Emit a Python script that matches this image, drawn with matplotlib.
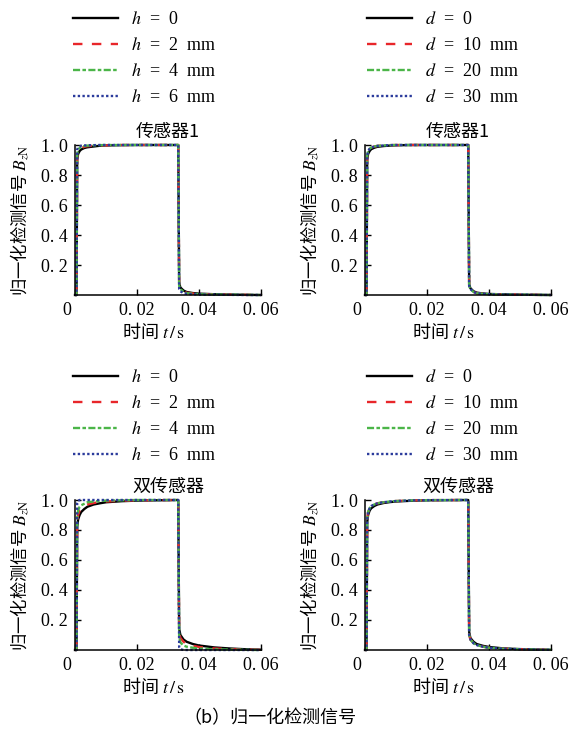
import numpy as np
import matplotlib
matplotlib.use("Agg")
import matplotlib.pyplot as plt
from matplotlib.transforms import ScaledTranslation

plt.rcParams['font.family'] = ['Liberation Serif', 'Noto Sans CJK SC']
plt.rcParams['mathtext.fontset'] = 'stix'
CJK = ['Noto Sans CJK SC', 'Liberation Serif']

# time samples (s), shared by all curves
t = [0, 0.0005, 0.0007, 0.001, 0.0015, 0.002, 0.003, 0.004, 0.006, 0.008,
     0.01, 0.015, 0.02, 0.0333, 0.0336, 0.034, 0.035, 0.036, 0.038, 0.04,
     0.045, 0.05, 0.055, 0.06]

# sensor 1, lift-off h
s1_h0 = [0, 0, 0.90, 0.94, 0.96, 0.97, 0.98, 0.985, 0.99, 0.995, 0.997, 0.999, 1.0, 1.0,
         0.08, 0.05, 0.03, 0.02, 0.013, 0.009, 0.005, 0.003, 0.001, 0]
s1_h2 = [0, 0, 0.92, 0.95, 0.97, 0.98, 0.988, 0.992, 0.995, 0.997, 0.998, 1.0, 1.0, 1.0,
         0.07, 0.045, 0.025, 0.015, 0.01, 0.007, 0.004, 0.002, 0.001, 0]
s1_h4 = [0, 0, 0.94, 0.97, 0.98, 0.988, 0.993, 0.996, 0.998, 0.999, 1.0, 1.0, 1.0, 1.0,
         0.06, 0.04, 0.02, 0.012, 0.008, 0.005, 0.003, 0.002, 0.001, 0]
s1_h6 = [0, 0, 0.97, 0.985, 0.99, 0.995, 0.997, 0.998, 0.999, 1.0, 1.0, 1.0, 1.0, 1.0,
         0.04, 0.025, 0.012, 0.008, 0.005, 0.003, 0.002, 0.001, 0, 0]

# sensor 1, offset d
s1_d0 = [0, 0, 0.90, 0.94, 0.96, 0.972, 0.982, 0.988, 0.993, 0.996, 0.998, 1.0, 1.0, 1.0,
         0.07, 0.045, 0.025, 0.016, 0.01, 0.007, 0.004, 0.002, 0.001, 0]
s1_d10 = [0, 0, 0.93, 0.96, 0.975, 0.983, 0.99, 0.994, 0.997, 0.999, 1.0, 1.0, 1.0, 1.0,
          0.06, 0.04, 0.02, 0.012, 0.008, 0.005, 0.003, 0.002, 0.001, 0]
s1_d20 = [0, 0, 0.93, 0.96, 0.975, 0.983, 0.99, 0.994, 0.997, 0.999, 1.0, 1.0, 1.0, 1.0,
          0.06, 0.04, 0.02, 0.012, 0.008, 0.005, 0.003, 0.002, 0.001, 0]
s1_d30 = [0, 0, 0.93, 0.96, 0.975, 0.983, 0.99, 0.994, 0.997, 0.999, 1.0, 1.0, 1.0, 1.0,
          0.06, 0.04, 0.02, 0.012, 0.008, 0.005, 0.003, 0.002, 0.001, 0]

# double sensor, lift-off h
s2_h0 = [0, 0, 0.82, 0.87, 0.90, 0.92, 0.94, 0.955, 0.97, 0.978, 0.985, 0.992, 0.996, 1.0,
         0.14, 0.10, 0.07, 0.055, 0.04, 0.03, 0.017, 0.01, 0.005, 0.002]
s2_h2 = [0, 0, 0.85, 0.90, 0.93, 0.945, 0.96, 0.97, 0.98, 0.986, 0.99, 0.995, 0.998, 1.0,
         0.12, 0.08, 0.055, 0.04, 0.028, 0.02, 0.01, 0.006, 0.003, 0.001]
s2_h4 = [0, 0, 0.88, 0.93, 0.955, 0.965, 0.975, 0.985, 0.99, 0.994, 0.996, 0.998, 1.0, 1.0,
         0.09, 0.05, 0.03, 0.022, 0.015, 0.01, 0.005, 0.003, 0.001, 0]
s2_h6 = [0, 0, 0.98, 0.995, 1.0, 1.0, 1.0, 1.0, 1.0, 1.0, 1.0, 1.0, 1.0, 1.0,
         0.02, 0.005, 0, 0, 0, 0, 0, 0, 0, 0]

# double sensor, offset d
s2_d0 = [0, 0, 0.85, 0.90, 0.93, 0.945, 0.96, 0.97, 0.98, 0.986, 0.99, 0.995, 0.998, 1.0,
         0.12, 0.08, 0.055, 0.04, 0.028, 0.02, 0.01, 0.006, 0.003, 0.001]
s2_d10 = [0, 0, 0.87, 0.92, 0.945, 0.96, 0.97, 0.978, 0.985, 0.99, 0.993, 0.997, 0.999, 1.0,
          0.10, 0.07, 0.045, 0.033, 0.022, 0.015, 0.008, 0.005, 0.002, 0.001]
s2_d20 = [0, 0, 0.87, 0.92, 0.945, 0.96, 0.97, 0.978, 0.985, 0.99, 0.993, 0.997, 0.999, 1.0,
          0.10, 0.07, 0.045, 0.033, 0.022, 0.015, 0.008, 0.005, 0.002, 0.001]
s2_d30 = [0, 0, 0.87, 0.92, 0.945, 0.96, 0.97, 0.978, 0.985, 0.99, 0.993, 0.997, 0.999, 1.0,
          0.10, 0.07, 0.045, 0.033, 0.022, 0.015, 0.008, 0.005, 0.002, 0.001]

h_labels = [r"$h$  =  0", r"$h$  =  2  mm", r"$h$  =  4  mm", r"$h$  =  6  mm"]
d_labels = [r"$d$  =  0", r"$d$  =  10  mm", r"$d$  =  20  mm", r"$d$  =  30  mm"]

x_ticks = [0, 0.02, 0.04, 0.06]
x_ticklabels = ["0", "0. 02", "0. 04", "0. 06"]
y_ticks = [0.2, 0.4, 0.6, 0.8, 1.0]
y_ticklabels = ["0. 2", "0. 4", "0. 6", "0. 8", "1. 0"]

styles = [
    dict(color="black", linestyle="-"),
    dict(color="#e8262a", linestyle=(0, (4, 4))),
    dict(color="#4bb548", linestyle=(0, (3, 1, 1.5, 1))),
    dict(color="#2b3b9c", linestyle=(0, (1, 1))),
]

panels = [
    # (left px, bottom px, title, series, labels, legend anchor)
    (75, 295, "传感器1", [s1_h0, s1_h2, s1_h4, s1_h6], h_labels, (73, 11)),
    (365, 295, "传感器1", [s1_d0, s1_d10, s1_d20, s1_d30], d_labels, (367, 11)),
    (75, 650, "双传感器", [s2_h0, s2_h2, s2_h4, s2_h6], h_labels, (73, 369)),
    (365, 650, "双传感器", [s2_d0, s2_d10, s2_d20, s2_d30], d_labels, (367, 369)),
]

W, H = 574, 737
fig = plt.figure(figsize=(W / 100, H / 100), dpi=100)

for left, bottom, title, series, labels, anchor in panels:
    ax = fig.add_axes([left / W, 1 - bottom / H, 186 / W, 150 / H])
    for ys, st, lab in zip(series, styles, labels):
        ax.plot(t, ys, lw=1.7, label=lab, clip_on=False, **st)
    ax.set_xlim(0, 0.06)
    ax.set_ylim(0, 1.0)
    for side in ("top", "right"):
        ax.spines[side].set_visible(False)
    ax.spines["left"].set_linewidth(1.1)
    ax.spines["bottom"].set_linewidth(1.1)
    ax.set_xticks(x_ticks)
    ax.set_xticklabels(x_ticklabels)
    ax.set_yticks(y_ticks)
    ax.set_yticklabels(y_ticklabels)
    ax.tick_params(direction="in", length=4, width=1, labelsize=13, pad=5)
    ax.get_xticklabels()[0].set_transform(
        ax.get_xticklabels()[0].get_transform()
        + ScaledTranslation(-8 / 100, 0, fig.dpi_scale_trans))
    ax.set_title(title, fontsize=13, pad=6, family=CJK)
    ax.set_xlabel(r"时间 $t\,/\,\mathrm{s}$", fontsize=13, family=CJK)
    ax.xaxis.set_label_coords(0.42, -0.17)
    ax.set_ylabel(r"归一化检测信号 $B_{z\mathrm{N}}$", fontsize=12.5, family=CJK)
    ax.yaxis.set_label_coords(-0.235, 0.5)
    ax.legend(loc="upper left", bbox_to_anchor=(anchor[0] / W, 1 - anchor[1] / H),
              bbox_transform=fig.transFigure, frameon=False, fontsize=13,
              borderpad=0, borderaxespad=0, handlelength=2.5, handletextpad=0.7,
              labelspacing=0.5)

fig.text(0.47, 1 - 718 / H, "（b）归一化检测信号", ha="center", va="center",
         fontsize=13, family=CJK)

fig.savefig("out.png", dpi=100)
